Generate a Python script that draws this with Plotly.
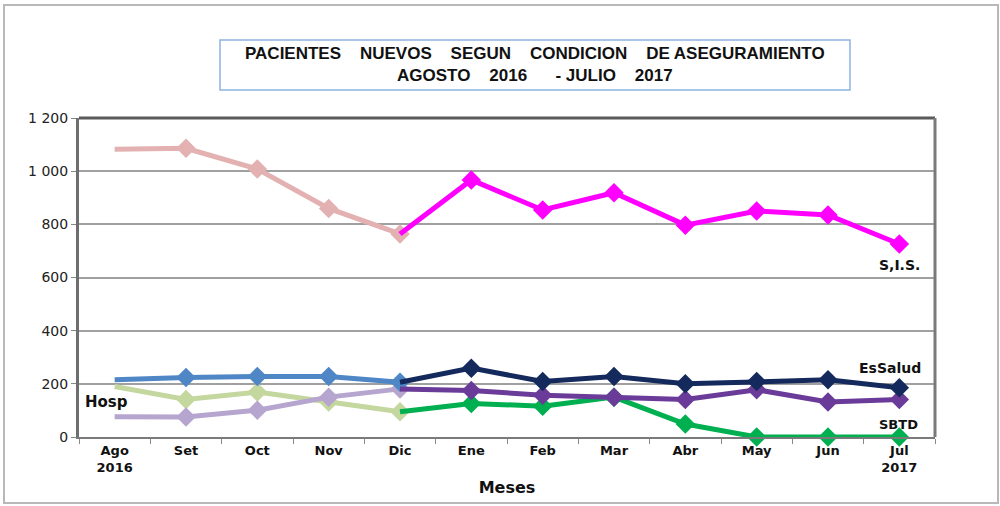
import plotly.graph_objects as go

months = ["Ago<br>2016", "Set", "Oct", "Nov", "Dic", "Ene", "Feb", "Mar", "Abr", "May", "Jun", "Jul<br>2017"]
first_months = months[:5]
second_months = months[4:]

sis_2016 = [1082, 1086, 1008, 860, 764]
sis_2017 = [764, 967, 854, 919, 797, 850, 835, 726]
essalud_2016 = [215, 224, 228, 228, 206]
essalud_2017 = [206, 259, 209, 228, 200, 209, 215, 185]
hosp_2016 = [190, 141, 169, 132, 95]
hosp_2017 = [95, 126, 116, 150, 49, 0, 0, 0]
sbtd_2016 = [76, 75, 101, 150, 181]
sbtd_2017 = [181, 175, 157, 150, 141, 178, 132, 141]

y_ticks = [0, 200, 400, 600, 800, 1000, 1200]
y_tick_text = ["0", "200", "400", "600", "800", "1 000", "1 200"]

fig = go.Figure()

def add(xs, ys, color):
    sizes = [0] + [15] * (len(xs) - 1)
    fig.add_trace(go.Scatter(
        x=xs, y=ys, mode="lines+markers",
        line=dict(color=color, width=5),
        marker=dict(symbol="diamond", size=sizes, color=color, opacity=1,
                    line=dict(width=0, color=color)),
        cliponaxis=False, showlegend=False, hoverinfo="x+y"))

add(first_months, sis_2016, "#E3B1B1")
add(first_months, hosp_2016, "#C4D79E")
add(first_months, sbtd_2016, "#B6A5CE")
add(first_months, essalud_2016, "#4F86C6")
add(second_months, sis_2017, "#FF00FF")
add(second_months, hosp_2017, "#00B050")
add(second_months, sbtd_2017, "#6A3B98")
add(second_months, essalud_2017, "#14295C")

nb = "\u00a0"
title_txt = ("<b>PACIENTES" + nb * 4 + "NUEVOS" + nb * 4 + "SEGUN" + nb * 4 + "CONDICION" + nb * 4 +
             "DE ASEGURAMIENTO<br>AGOSTO" + nb * 4 + "2016" + nb * 6 + "-" + nb + "JULIO" + nb * 4 + "2017</b>")

lab_font = dict(family="DejaVu Sans", size=14, color="#111111")
fig.update_layout(
    width=1000, height=506,
    margin=dict(l=79, r=65, t=118, b=69),
    paper_bgcolor="white", plot_bgcolor="white",
    xaxis=dict(
        type="category", categoryorder="array", categoryarray=months,
        range=[-0.5, 11.5], tickson="boundaries", ticks="outside", ticklen=5,
        tickcolor="#888888", showgrid=False, showline=True, linecolor="#7a7a7a",
        linewidth=2, mirror=False,
        tickfont=dict(family="DejaVu Sans", size=13, color="#111111", weight="bold"),
        title=dict(text="<b>Meses</b>", font=dict(family="DejaVu Sans", size=16, color="#111111"),
                   standoff=8),
        fixedrange=True,
    ),
    yaxis=dict(
        range=[0, 1200], tickvals=y_ticks, ticktext=y_tick_text,
        ticks="outside", ticklen=5, tickcolor="#888888",
        showgrid=True, gridcolor="#a0a0a0", gridwidth=1.5,
        showline=True, linecolor="#6e6e6e", linewidth=3, mirror=False,
        tickfont=dict(family="DejaVu Sans", size=14, color="#222222"),
        zeroline=False, fixedrange=True,
    ),
    shapes=[
        dict(type="rect", xref="paper", yref="paper",
             x0=(4 - 79) / 856, x1=(998 - 79) / 856,
             y0=(437 - 503) / 319, y1=(437 - 5) / 319,
             line=dict(color="#b8b8b8", width=2), layer="below"),
        dict(type="line", xref="paper", yref="paper", x0=0, x1=1, y0=1, y1=1,
             line=dict(color="#5a5a5a", width=3)),
        dict(type="line", xref="paper", yref="paper", x0=1, x1=1, y0=0, y1=1,
             line=dict(color="#7a7a7a", width=3)),
        dict(type="rect", xref="paper", yref="paper",
             x0=(220 - 79) / 856, x1=(850 - 79) / 856,
             y0=(437 - 90) / 319, y1=(437 - 40) / 319,
             line=dict(color="#8DB4E2", width=1.5), fillcolor="white"),
    ],
    annotations=[
        dict(xref="paper", yref="paper", x=(535 - 79) / 856, y=(437 - 65) / 319,
             text=title_txt,
             showarrow=False, font=dict(family="Liberation Sans, Arial, sans-serif", size=17, color="#111111"),
             xanchor="center", yanchor="middle", align="center"),
        dict(xref="paper", yref="paper", x=(899 - 79) / 856, y=(437 - 265) / 319,
             text="<b>S,I.S.</b>", showarrow=False, font=lab_font, xanchor="center", yanchor="middle"),
        dict(xref="paper", yref="paper", x=(890 - 79) / 856, y=(437 - 368) / 319,
             text="<b>EsSalud</b>", showarrow=False, font=lab_font, xanchor="center", yanchor="middle"),
        dict(xref="paper", yref="paper", x=(898 - 79) / 856, y=(437 - 424) / 319,
             text="<b>SBTD</b>", showarrow=False, font=dict(family="DejaVu Sans", size=13, color="#111111"),
             xanchor="center", yanchor="middle"),
        dict(xref="paper", yref="paper", x=(106 - 79) / 856, y=(437 - 402) / 319,
             text="<b>Hosp</b>", showarrow=False, font=dict(family="DejaVu Sans", size=15, color="#111111"),
             xanchor="center", yanchor="middle"),
    ],
)

fig.write_html("out.html", config={"displayModeBar": False},
               post_script="document.body.style.margin='0';document.body.style.overflow='hidden';")
